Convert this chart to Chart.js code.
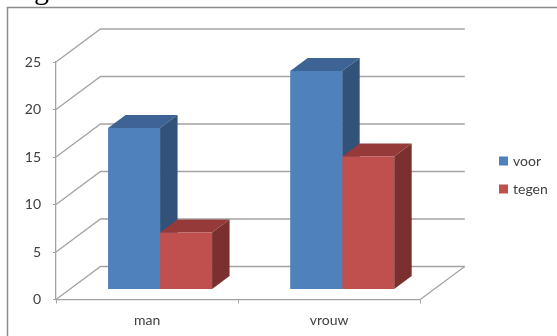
<!DOCTYPE html>
<html>
<head>
<meta charset="utf-8">
<title>voor / tegen</title>
<style>
  html, body { margin: 0; padding: 0; background: #fff; overflow: hidden; }
  #wrap { position: relative; width: 557px; height: 336px; overflow: hidden; }
  #heading { position: absolute; left: 34px; top: -29px; font: 30px/36px "Liberation Serif", serif; color: #000; z-index: 2; }
  canvas { display: block; }
</style>
<script src="https://cdn.jsdelivr.net/npm/chart.js@4"></script>
</head>
<body>
<div id="wrap">
  <div id="heading">ga</div>
  <canvas id="chart" width="557" height="336"></canvas>
</div>
<script>
const categories = ['man', 'vrouw'];
const voorValues = [17, 23];
const tegenValues = [6, 14];

const GRID = '#a3a3a3';
const TEXT = '#404040';
const FONT = { family: 'Lato, "Noto Sans", sans-serif', size: 14 };

// Box depth and the distance from the front plane to the bars
const DEPTH_X = 17.5;
const DEPTH_Y = 13;
const WALL_X = 44.5;
const WALL_Y = 33;
const BAR_SHIFT_X = 13;
const BAR_SHIFT_Y = 10;

function fillPoly(ctx, color, pts) {
  ctx.fillStyle = color;
  ctx.beginPath();
  pts.forEach((p, i) => (i ? ctx.lineTo(p[0], p[1]) : ctx.moveTo(p[0], p[1])));
  ctx.closePath();
  ctx.fill();
}

function strokePath(ctx, pts) {
  ctx.beginPath();
  pts.forEach((p, i) => (i ? ctx.lineTo(p[0], p[1]) : ctx.moveTo(p[0], p[1])));
  ctx.stroke();
}

// Outer frame, and the wall and floor behind the bars
const backdrop = {
  id: 'backdrop',
  afterLayout(chart) {
    // move the legend up and in, the layout only centres it
    const lg = chart.legend;
    const dx = 487 - lg.left;
    lg.left += dx;
    lg.right += dx;
    lg.top -= 24;
    lg.bottom -= 24;
  },
  beforeDraw(chart) {
    const ctx = chart.ctx;
    ctx.save();
    ctx.strokeStyle = '#8c8c8c';
    ctx.lineWidth = 1.5;
    strokePath(ctx, [[7.5, 336], [7.5, 7.5], [557, 7.5]]);
    ctx.restore();
  },
  beforeDatasetsDraw(chart) {
    const ctx = chart.ctx;
    const { left, right } = chart.chartArea;
    const yScale = chart.scales.y;
    ctx.save();
    ctx.strokeStyle = GRID;
    ctx.lineWidth = 1.3;
    yScale.ticks.forEach(t => {
      const y = yScale.getPixelForValue(t.value);
      strokePath(ctx, [[left, y], [left + WALL_X, y - WALL_Y], [right + WALL_X, y - WALL_Y]]);
    });
    const y0 = yScale.getPixelForValue(0);
    strokePath(ctx, [[right, y0], [right + WALL_X, y0 - WALL_Y]]);
    ctx.restore();
    // bars stand a little behind the front edge of the floor
    ctx.save();
    ctx.translate(BAR_SHIFT_X, -BAR_SHIFT_Y);
    // all top and side faces go first, the front faces are drawn over them
    chart.data.datasets.forEach((ds, i) => {
      chart.getDatasetMeta(i).data.forEach(bar => {
        const r = bar.x + bar.width / 2;
        const l = bar.x - bar.width / 2;
        fillPoly(ctx, ds.topColor, [[l, bar.y], [r, bar.y], [r + DEPTH_X, bar.y - DEPTH_Y], [l + DEPTH_X, bar.y - DEPTH_Y]]);
        fillPoly(ctx, ds.sideColor, [[r, bar.y], [r, bar.base], [r + DEPTH_X, bar.base - DEPTH_Y], [r + DEPTH_X, bar.y - DEPTH_Y]]);
      });
    });
  },
  afterDatasetsDraw(chart) {
    chart.ctx.restore();
  }
};

new Chart(document.getElementById('chart'), {
  type: 'bar',
  data: {
    labels: categories,
    datasets: [
      { label: 'voor', data: voorValues, backgroundColor: '#4f81bd', topColor: '#3d6495', sideColor: '#32527a', clip: false },
      { label: 'tegen', data: tegenValues, backgroundColor: '#c0504d', topColor: '#953a38', sideColor: '#7a302e', clip: false }
    ]
  },
  options: {
    responsive: false,
    animation: false,
    devicePixelRatio: 1,
    layout: { padding: { top: 62, bottom: 0, left: 0, right: 0 } },
    categoryPercentage: 0.571,
    barPercentage: 1,
    scales: {
      x: {
        grid: { drawOnChartArea: false, color: GRID, tickLength: 4 },
        border: { color: GRID, width: 1.3 },
        ticks: { color: TEXT, font: FONT, padding: 9, maxRotation: 0 },
        afterFit: s => { s.height = 36.5; }
      },
      y: {
        min: 0,
        max: 25,
        grid: { drawOnChartArea: false, color: GRID, tickLength: 3 },
        border: { color: GRID, width: 1.3 },
        ticks: { color: TEXT, font: FONT, stepSize: 5, padding: 12 },
        afterFit: s => { s.width = 56; }
      },
      // empty axis that holds the space between the floor and the legend
      gap: {
        position: 'right',
        display: true,
        grid: { display: false },
        border: { display: false },
        ticks: { display: false },
        afterFit: s => { s.width = 66; }
      }
    },
    plugins: {
      legend: {
        position: 'right',
        labels: { usePointStyle: true, pointStyle: 'rect', boxWidth: 5, boxHeight: 9, padding: 14, color: TEXT, font: FONT }
      },
      tooltip: { enabled: false }
    }
  },
  plugins: [backdrop]
});
</script>
</body>
</html>
